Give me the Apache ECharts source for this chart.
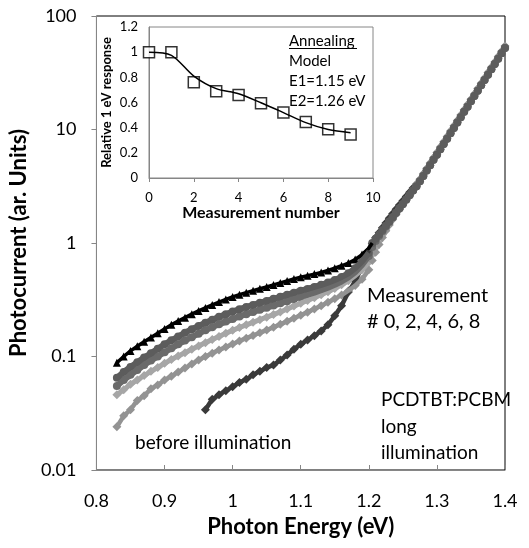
<!DOCTYPE html>
<html><head><meta charset="utf-8">
<script src="https://cdn.jsdelivr.net/npm/echarts@6/dist/echarts.min.js"></script>
<style>html,body{margin:0;padding:0;background:#fff}#c{width:529px;height:548px}</style>
</head><body><div id="c"></div>
<script>
// Photon energy grid (eV)
const energies = [0.83,0.84,0.85,0.86,0.87,0.88,0.89,0.90,0.91,0.92,0.93,0.94,0.95,0.96,0.97,0.98,0.99,1.00,1.01,1.02,1.03,1.04,1.05,1.06,1.07,1.08,1.09,1.10,1.11,1.12,1.13,1.14,1.15,1.16,1.17,1.18,1.19,
  1.200,1.205,1.210,1.215,1.220,1.225,1.230,1.235,1.240,1.245,1.250,1.255,1.260,1.265,
  1.270,1.275,1.280,1.285,1.290,1.295,1.300,1.305,1.310,1.315,1.320,1.325,1.330,1.335,1.340,1.345,1.350,1.355,1.360,1.365,1.370,1.375,1.380,1.385,1.390,1.395,1.400];

// Measurement 0 (from 0.83 eV)
const meas0 = [0.088,0.100,0.112,0.123,0.135,0.147,0.160,0.175,0.190,0.205,0.220,0.236,0.252,0.268,0.285,0.302,0.318,0.335,0.350,0.365,0.380,0.395,0.410,0.427,0.445,0.463,0.482,0.500,0.515,0.532,0.550,0.573,0.600,0.630,0.665,0.715,0.790,0.90,1.0];
// Measurement 2 (0.83 .. 1.265 eV)
const meas2 = [0.065,0.073,0.081,0.089,0.098,0.107,0.117,0.128,0.139,0.150,0.162,0.174,0.186,0.198,0.211,0.224,0.236,0.249,0.261,0.273,0.285,0.297,0.309,0.322,0.336,0.350,0.365,0.380,0.394,0.410,0.428,0.448,0.472,0.502,0.540,0.600,0.690,
  0.82,1.00,1.09,1.19,1.30,1.42,1.55,1.69,1.85,2.02,2.21,2.42,2.65,2.90];
// Measurement 4
const meas4 = [0.055,0.062,0.069,0.076,0.084,0.092,0.100,0.109,0.118,0.128,0.138,0.148,0.159,0.170,0.181,0.192,0.203,0.214,0.225,0.236,0.247,0.258,0.269,0.281,0.294,0.307,0.321,0.335,0.350,0.366,0.384,0.404,0.428,0.458,0.497,0.553,0.640,
  0.77,0.92,1.04,1.15,1.27,1.40,1.53,1.68,1.84,2.01,2.20,2.41,2.64,2.90];
// Measurement 6
const meas6 = [0.046,0.051,0.057,0.062,0.068,0.074,0.080,0.087,0.094,0.101,0.108,0.116,0.124,0.132,0.141,0.150,0.160,0.170,0.180,0.190,0.200,0.211,0.222,0.234,0.247,0.262,0.278,0.295,0.312,0.330,0.350,0.372,0.398,0.428,0.465,0.515,0.580,
  0.68,0.79,0.91,1.04,1.18,1.33,1.48,1.64,1.81,1.99,2.19,2.40,2.64,2.90];
// Measurement 8
const meas8 = [0.024,0.030,0.034,0.041,0.045,0.052,0.056,0.062,0.067,0.073,0.079,0.086,0.093,0.100,0.107,0.114,0.121,0.129,0.137,0.145,0.153,0.162,0.171,0.181,0.192,0.204,0.217,0.231,0.246,0.262,0.280,0.300,0.322,0.348,0.380,0.422,0.480,
  0.58,0.70,0.83,0.97,1.12,1.28,1.44,1.61,1.79,1.97,2.17,2.39,2.63,2.90];
// Before illumination (0.96 .. 1.27 eV)
const beforeIllum = [0.034,0.042,0.046,0.050,0.054,0.059,0.063,0.069,0.074,0.080,0.084,0.093,0.103,0.116,0.128,0.140,0.152,0.168,0.190,0.228,0.280,0.370,0.460,0.620,
  0.86,0.99,1.11,1.23,1.36,1.50,1.65,1.81,1.98,2.16,2.36,2.57,2.80,3.05,3.30];
// Common steep edge 1.27 .. 1.40 eV
const steepA = [3.17,3.5,3.9,4.35,4.85,5.4,6.0,6.7,7.45,8.3,9.25,10.3,11.5,12.8,14.3,15.9,17.7,19.7,22.0,24.5,27.3,30.4,33.9,37.8,42.1,46.9,52.2];
const steepB = [3.3,3.65,4.07,4.54,5.06,5.64,6.27,7.0,7.8,8.68,9.68,10.8,12.0,13.4,14.9,16.6,18.5,20.6,23.0,25.6,28.5,31.8,35.4,39.4,43.9,48.9,54.5];

// Inset
const measNumber = [0,1,2,3,4,5,6,7,8,9];
const relResponse = [1.0,1.0,0.76,0.69,0.66,0.595,0.52,0.445,0.387,0.345];
const modelResponse = [1.0,0.975,0.81,0.71,0.67,0.598,0.52,0.44,0.385,0.36];

const yTickLabels = ['0.01','0.1','1','10','100'];
const xTickLabels = ['0.8','0.9','1','1.1','1.2','1.3','1.4'];
const insetYLabels = ['0','0.2','0.4','0.6','0.8','1','1.2'];

function pairs(vals, start) { return vals.map((v, i) => [energies[start + i], v]); }

const F = 'Lato';
const chart = echarts.init(document.getElementById('c'), null, {renderer: 'canvas'});

function sc(name, data, symbol, size, color) {
  return {name, type: 'scatter', xAxisIndex: 0, yAxisIndex: 0, data, symbol, symbolSize: size,
    itemStyle: {color: color, opacity: 1}, silent: true};
}
function ln(name, data, width, color) {
  return {name, type: 'line', xAxisIndex: 0, yAxisIndex: 0, data, symbol: 'none',
    lineStyle: {color: color, width: width}, silent: true};
}

const d0 = pairs(meas0, 0);
const dB = pairs(beforeIllum, 13);
const d6 = pairs(meas6.concat(steepA), 0);
const d8 = pairs(meas8.concat(steepB), 0);
const d4 = pairs(meas4.concat(steepA), 0);
const d2 = pairs(meas2.concat(steepA), 0);

chart.setOption({
  animation: false,
  grid: [
    {left: 94, right: 24, top: 16, bottom: 78, show: true, borderColor: '#000', borderWidth: 1},
    {left: 149, top: 27, width: 224, height: 151, show: true, borderColor: '#868686', borderWidth: 1}
  ],
  xAxis: [
    {type: 'value', gridIndex: 0, min: 0.8, max: 1.4, interval: 0.1,
     axisLine: {lineStyle: {color: '#868686'}}, axisTick: {inside: true, length: 5, lineStyle: {color: '#868686'}},
     splitLine: {show: false},
     axisLabel: {color: '#000', fontFamily: F, fontSize: 18, margin: 22,
       formatter: v => xTickLabels[Math.round((v - 0.8) * 10)]},
     name: 'Photon Energy (eV)', nameLocation: 'middle', nameGap: 46,
     nameTextStyle: {color: '#000', fontFamily: F, fontSize: 22, fontWeight: 'bold'}},
    {type: 'value', gridIndex: 1, min: 0, max: 10, interval: 2,
     axisLine: {lineStyle: {color: '#868686'}}, axisTick: {length: 4, lineStyle: {color: '#868686'}},
     splitLine: {show: false},
     axisLabel: {color: '#000', fontFamily: F, fontSize: 13, margin: 13},
     name: 'Measurement number', nameLocation: 'middle', nameGap: 25,
     nameTextStyle: {color: '#000', fontFamily: F, fontSize: 16, fontWeight: 'bold'}}
  ],
  yAxis: [
    {type: 'log', gridIndex: 0, min: 0.01, max: 100, logBase: 10,
     axisLine: {show: true, lineStyle: {color: '#868686'}}, axisTick: {show: true, length: 5, lineStyle: {color: '#868686'}},
     splitLine: {show: false}, minorTick: {show: false},
     axisLabel: {color: '#000', fontFamily: F, fontSize: 18, margin: 20,
       formatter: v => yTickLabels[Math.round(Math.log10(v)) + 2]},
     name: 'Photocurrent (ar. Units)', nameLocation: 'middle', nameGap: 58, nameRotate: 90,
     nameTextStyle: {color: '#000', fontFamily: F, fontSize: 22, fontWeight: 'bold'}},
    {type: 'value', gridIndex: 1, min: 0, max: 1.2, interval: 0.2,
     axisLine: {show: true, lineStyle: {color: '#868686'}}, axisTick: {show: false},
     splitLine: {show: false},
     axisLabel: {color: '#000', fontFamily: F, fontSize: 13, margin: 11,
       formatter: v => insetYLabels[Math.round(v * 5)]},
     name: 'Relative 1 eV response', nameLocation: 'middle', nameGap: 36, nameRotate: 90,
     nameTextStyle: {color: '#000', fontFamily: F, fontSize: 13, fontWeight: 'bold'}}
  ],
  series: [
    ln('Measurement 0 line', d0, 3.5, '#000000'),
    sc('Measurement 0', d0, 'triangle', 8, '#000000'),
    ln('Before illumination line', dB.slice(0, 25), 4.5, '#3a3a3a'),
    sc('Before illumination', dB, 'diamond', 9, '#3a3a3a'),
    ln('Measurement 6 line', d6.slice(0, 38), 5, '#a6a6a6'),
    sc('Measurement 6', d6, 'diamond', 9, '#a6a6a6'),
    ln('Measurement 8 line', d8.slice(0, 38), 4.5, '#939393'),
    sc('Measurement 8', d8, 'diamond', 9, '#939393'),
    ln('Measurement 4 line', d4.slice(0, 38), 6, '#6a6a6a'),
    sc('Measurement 4', d4, 'circle', 8, '#6a6a6a'),
    ln('Measurement 2 line', d2.slice(0, 38), 6, '#5c5c5c'),
    sc('Measurement 2', d2, 'circle', 8, '#5c5c5c'),
    {name: 'Model', type: 'line', xAxisIndex: 1, yAxisIndex: 1, smooth: 0.3,
     data: measNumber.map((m, i) => [m, modelResponse[i]]), symbol: 'none',
     lineStyle: {color: '#000', width: 1.5}, silent: true},
    {name: 'Relative response', type: 'scatter', xAxisIndex: 1, yAxisIndex: 1,
     data: measNumber.map((m, i) => [m, relResponse[i]]), symbol: 'rect', symbolSize: 11,
     itemStyle: {color: '#fff', borderColor: '#000', borderWidth: 1.5}, silent: true}
  ],
  graphic: [
    {type: 'text', x: 289, y: 41, style: {text: 'Annealing', font: '15px Lato', fill: '#000', verticalAlign: 'middle'}},
    {type: 'line', shape: {x1: 289, y1: 48.5, x2: 357, y2: 48.5}, style: {stroke: '#000', lineWidth: 1}},
    {type: 'text', x: 289, y: 61, style: {text: 'Model', font: '15px Lato', fill: '#000', verticalAlign: 'middle'}},
    {type: 'text', x: 289, y: 81, style: {text: 'E1=1.15 eV', font: '15px Lato', fill: '#000', verticalAlign: 'middle'}},
    {type: 'text', x: 289, y: 101, style: {text: 'E2=1.26 eV', font: '15px Lato', fill: '#000', verticalAlign: 'middle'}},
    {type: 'text', x: 367, y: 296, style: {text: 'Measurement', font: '20px Lato', fill: '#000', verticalAlign: 'middle'}},
    {type: 'text', x: 367, y: 322, style: {text: '# 0, 2, 4, 6, 8', font: '20px Lato', fill: '#000', verticalAlign: 'middle'}},
    {type: 'text', x: 381, y: 400, style: {text: 'PCDTBT:PCBM', font: '19px Lato', fill: '#000', verticalAlign: 'middle'}},
    {type: 'text', x: 381, y: 427, style: {text: 'long', font: '19px Lato', fill: '#000', verticalAlign: 'middle'}},
    {type: 'text', x: 381, y: 453, style: {text: 'illumination', font: '19px Lato', fill: '#000', verticalAlign: 'middle'}},
    {type: 'text', x: 135, y: 443, style: {text: 'before illumination', font: '19px Lato', fill: '#000', verticalAlign: 'middle'}}
  ]
});
</script></body></html>
